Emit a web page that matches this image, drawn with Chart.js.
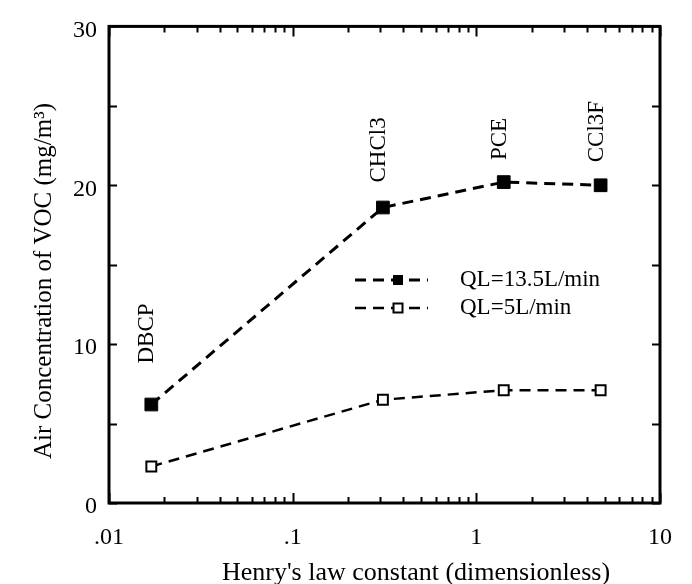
<!DOCTYPE html>
<html>
<head>
<meta charset="utf-8">
<script src="https://cdn.jsdelivr.net/npm/chart.js@4/dist/chart.umd.min.js"></script>
<style>
  html, body { margin: 0; padding: 0; background: #ffffff; }
  #wrap { width: 692px; height: 584px; }
</style>
</head>
<body>
<div id="wrap"><canvas id="c" width="692" height="584"></canvas></div>
<script>
// ---- data ----
const categories = ['DBCP', 'CHCl3', 'PCE', 'CCl3F'];
const henryConstants = [0.017, 0.31, 1.41, 4.75];
const airConcHigh = [6.2, 18.6, 20.2, 20.0];   // QL=13.5L/min (filled squares)
const airConcLow = [2.3, 6.5, 7.1, 7.1];       // QL=5L/min (open squares)
const seriesNames = ['QL=13.5L/min', 'QL=5L/min'];
const xTickValues = [0.01, 0.1, 1, 10];
const xTickLabels = ['.01', '.1', '1', '10'];
const xMinorTicks = [0.02, 0.03, 0.04, 0.05, 0.06, 0.07, 0.08, 0.09,
                     0.2, 0.3, 0.4, 0.5, 0.6, 0.7, 0.8, 0.9,
                     2, 3, 4, 5, 6, 7, 8, 9];
const yTickValues = [0, 10, 20, 30];
const yMinorTicks = [5, 15, 25];
const xTitle = "Henry's law constant (dimensionless)";
const yTitle = 'Air Concentration of VOC (mg/m\u00B3)';

const SERIF = '"Liberation Serif", "Times New Roman", "DejaVu Serif", serif';

const highData = henryConstants.map((x, i) => ({ x: x, y: airConcHigh[i] }));
const lowData = henryConstants.map((x, i) => ({ x: x, y: airConcLow[i] }));

const decorPlugin = {
  id: 'decor',
  afterDraw(chart) {
    const ctx = chart.ctx;
    const ca = chart.chartArea;
    const xs = chart.scales.x, ys = chart.scales.y;
    ctx.save();
    ctx.strokeStyle = '#000';
    ctx.fillStyle = '#000';
    ctx.setLineDash([]);

    // frame
    ctx.lineWidth = 3;
    ctx.strokeRect(ca.left, ca.top, ca.right - ca.left, ca.bottom - ca.top);

    // inward ticks
    ctx.lineWidth = 2;
    const tickX = (v, len) => {
      const px = Math.round(xs.getPixelForValue(v)) + 0.5;
      ctx.beginPath();
      ctx.moveTo(px, ca.bottom); ctx.lineTo(px, ca.bottom - len);
      ctx.moveTo(px, ca.top); ctx.lineTo(px, ca.top + len);
      ctx.stroke();
    };
    xTickValues.forEach(v => tickX(v, 10));
    xMinorTicks.forEach(v => tickX(v, 6));
    const tickY = (v, len) => {
      const py = Math.round(ys.getPixelForValue(v)) + 0.5;
      ctx.beginPath();
      ctx.moveTo(ca.left, py); ctx.lineTo(ca.left + len, py);
      ctx.moveTo(ca.right, py); ctx.lineTo(ca.right - len, py);
      ctx.stroke();
    };
    yTickValues.forEach(v => tickY(v, 8));
    yMinorTicks.forEach(v => tickY(v, 8));

    // axis titles
    ctx.textAlign = 'center';
    ctx.textBaseline = 'middle';
    ctx.font = '26px ' + SERIF;
    ctx.fillText(xTitle, 416, 573);
    ctx.save();
    ctx.translate(44, 281);
    ctx.rotate(-Math.PI / 2);
    ctx.font = '25px ' + SERIF;
    ctx.fillText(yTitle, 0, 0);
    ctx.restore();

    // rotated compound labels above the upper series
    const gaps = [41, 25, 22, 23];
    ctx.font = '23px ' + SERIF;
    ctx.textAlign = 'left';
    ctx.textBaseline = 'middle';
    const meta = chart.getDatasetMeta(0);
    categories.forEach((name, i) => {
      const pt = meta.data[i];
      ctx.save();
      ctx.translate(pt.x - 4, pt.y - gaps[i]);
      ctx.rotate(-Math.PI / 2);
      ctx.fillText(name, 0, 0);
      ctx.restore();
    });

    // legend inside plot
    const rows = [280, 308];
    chart.data.datasets.forEach((ds, i) => {
      const y = rows[i];
      ctx.save();
      ctx.lineWidth = ds.borderWidth;
      ctx.setLineDash(ds.borderDash);
      ctx.beginPath();
      ctx.moveTo(355, y); ctx.lineTo(428, y);
      ctx.stroke();
      ctx.restore();
      const s = 9;
      ctx.save();
      ctx.fillStyle = ds.pointBackgroundColor;
      ctx.fillRect(398 - s / 2, y - s / 2, s, s);
      ctx.lineWidth = ds.pointBorderWidth;
      ctx.strokeStyle = '#000';
      ctx.strokeRect(398 - s / 2, y - s / 2, s, s);
      ctx.restore();
      ctx.font = '23px ' + SERIF;
      ctx.textAlign = 'left';
      ctx.textBaseline = 'middle';
      ctx.fillText(ds.label, 460, y);
    });
    ctx.restore();
  }
};

new Chart(document.getElementById('c'), {
  type: 'line',
  data: {
    datasets: [
      {
        label: seriesNames[0],
        data: highData,
        borderColor: '#000',
        borderWidth: 3,
        borderDash: [11, 7],
        pointStyle: 'rect',
        pointRadius: 9,
        pointBackgroundColor: '#000',
        pointBorderColor: '#000',
        pointBorderWidth: 1,
        fill: false,
        tension: 0
      },
      {
        label: seriesNames[1],
        data: lowData,
        borderColor: '#000',
        borderWidth: 2.5,
        borderDash: [11, 7],
        pointStyle: 'rect',
        pointRadius: 7,
        pointBackgroundColor: '#fff',
        pointBorderColor: '#000',
        pointBorderWidth: 2,
        fill: false,
        tension: 0
      }
    ]
  },
  options: {
    responsive: false,
    animation: false,
    layout: { padding: { top: 19, right: 27, left: 0, bottom: 0 } },
    plugins: { legend: { display: false }, tooltip: { enabled: false } },
    scales: {
      x: {
        type: 'logarithmic',
        min: 0.01,
        max: 10,
        afterBuildTicks: s => { s.ticks = xTickValues.map(v => ({ value: v })); },
        afterFit: s => { s.height = 81; },
        grid: { display: false, drawTicks: false },
        border: { display: false },
        ticks: {
          autoSkip: false,
          maxRotation: 0,
          padding: 20,
          color: '#000',
          font: { family: SERIF, size: 24 },
          callback: v => { const i = xTickValues.indexOf(v); return i >= 0 ? xTickLabels[i] : ''; }
        }
      },
      y: {
        min: 0,
        max: 30,
        afterBuildTicks: s => { s.ticks = yTickValues.map(v => ({ value: v })); },
        afterFit: s => { s.width = 109; },
        grid: { display: false, drawTicks: false },
        border: { display: false },
        ticks: {
          padding: 12,
          labelOffset: 4,
          color: '#000',
          font: { family: SERIF, size: 24 },
          callback: v => String(v)
        }
      }
    }
  },
  plugins: [decorPlugin]
});
</script>
</body>
</html>
